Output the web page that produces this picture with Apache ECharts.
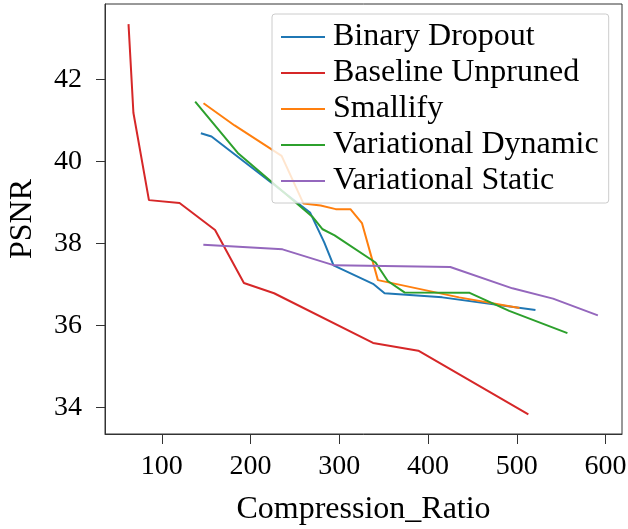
<!DOCTYPE html>
<html>
<head>
<meta charset="utf-8">
<script src="https://cdn.jsdelivr.net/npm/echarts@6/dist/echarts.min.js"></script>
<style>
  html, body { margin: 0; padding: 0; background: #fff; }
  #chart { width: 628px; height: 529px; }
</style>
</head>
<body>
<div id="chart"></div>
<script>
// PSNR versus compression ratio for each pruning method
const binaryX   = [144, 156, 267, 283, 293.5, 338, 351, 416, 521];
const binaryY   = [40.69, 40.61, 38.76, 38.03, 37.47, 37.02, 36.79, 36.69, 36.38];

const baselineX = [62.5, 68, 85.5, 120, 160, 192.5, 226.5, 338, 389, 513];
const baselineY = [43.35, 41.19, 39.06, 38.99, 38.33, 37.04, 36.79, 35.58, 35.39, 33.84];

const smallifyX = [147, 182, 235, 259.5, 279, 296, 312.5, 325.5, 343.5, 435, 503];
const smallifyY = [41.42, 40.88, 40.14, 38.98, 38.93, 38.84, 38.84, 38.5, 37.11, 36.69, 36.43];

const dynamicX  = [137.6, 185.6, 270.3, 281.2, 294.7, 340.8, 354.6, 373.4, 446.8, 491.4, 557];
const dynamicY  = [41.46, 40.21, 38.64, 38.35, 38.2, 37.54, 37.09, 36.81, 36.8, 36.36, 35.82];

const staticX   = [146.8, 236, 294.3, 425, 495, 540.8, 591.3];
const staticY   = [37.97, 37.86, 37.47, 37.43, 36.91, 36.66, 36.25];

const seriesNames = ['Binary Dropout', 'Baseline Unpruned', 'Smallify', 'Variational Dynamic', 'Variational Static'];
const seriesColors = ['#1f77b4', '#d62728', '#ff7f0e', '#2ca02c', '#9467bd'];

const xTicks = [100, 200, 300, 400, 500, 600];
const yTicks = [34, 36, 38, 40, 42];

const FONT = '"Liberation Serif", "DejaVu Serif", serif';

function pairs(xs, ys) {
  return xs.map((x, i) => [x, ys[i]]);
}

const seriesData = [
  pairs(binaryX, binaryY),
  pairs(baselineX, baselineY),
  pairs(smallifyX, smallifyY),
  pairs(dynamicX, dynamicY),
  pairs(staticX, staticY)
];

const chart = echarts.init(document.getElementById('chart'), null, { renderer: 'canvas' });

chart.setOption({
  animation: false,
  backgroundColor: '#ffffff',
  grid: {
    left: 105, right: 6, top: 4, bottom: 95,
    containLabel: false,
    outerBoundsMode: 'none',
    show: true, borderColor: '#333', borderWidth: 1,
    backgroundColor: 'transparent'
  },
  xAxis: {
    type: 'value',
    min: 36, max: 618.5,
    name: 'Compression_Ratio',
    nameLocation: 'middle',
    nameGap: 60,
    nameTextStyle: { fontFamily: FONT, fontSize: 32, color: '#000' },
    axisLine: { show: true, lineStyle: { color: '#333', width: 1 } },
    axisTick: { show: true, length: 10, customValues: xTicks, lineStyle: { color: '#333', width: 1 } },
    axisLabel: { customValues: xTicks, margin: 19, fontFamily: FONT, fontSize: 28, lineHeight: 28, color: '#000' },
    splitLine: { show: false }
  },
  yAxis: {
    type: 'value',
    min: 33.36, max: 43.84,
    name: 'PSNR',
    nameLocation: 'middle',
    nameGap: 66,
    nameRotate: 90,
    nameTextStyle: { fontFamily: FONT, fontSize: 32, color: '#000' },
    axisLine: { show: true, lineStyle: { color: '#333', width: 1 } },
    axisTick: { show: true, length: 9, customValues: yTicks, lineStyle: { color: '#333', width: 1 } },
    axisLabel: { customValues: yTicks, margin: 23, fontFamily: FONT, fontSize: 28, color: '#000' },
    splitLine: { show: false }
  },
  legend: {
    orient: 'vertical',
    left: 272, top: 14,
    padding: [5, 10, 4, 9],
    itemGap: 0,
    itemWidth: 44, itemHeight: 2,
    icon: 'rect',
    backgroundColor: 'rgba(255,255,255,0.8)',
    borderColor: '#cccccc', borderWidth: 1, borderRadius: 3,
    textStyle: { fontFamily: FONT, fontSize: 32, lineHeight: 36, color: '#000', padding: [0, 0, 0, 3] },
    data: seriesNames
  },
  series: seriesNames.map((name, i) => ({
    name: name,
    type: 'line',
    data: seriesData[i],
    symbol: 'none',
    showSymbol: false,
    color: seriesColors[i],
    lineStyle: { color: seriesColors[i], width: 2 },
    z: 2 + i * 0.01
  }))
});
</script>
</body>
</html>
